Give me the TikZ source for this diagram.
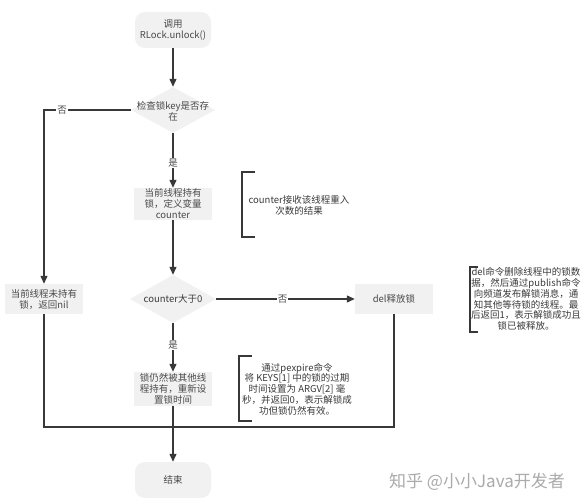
\documentclass[tikz,border=0pt]{standalone}
\usepackage{fontspec}
\setmainfont{Noto Sans CJK SC}
\usetikzlibrary{shapes.geometric,arrows.meta}
\definecolor{nodefill}{HTML}{F1F1F1}
\definecolor{linec}{HTML}{383838}
\definecolor{textc}{HTML}{4A4A4A}
\definecolor{notec}{HTML}{3A3A3A}
\definecolor{wm}{HTML}{ABABAB}
\begin{document}
\begin{tikzpicture}[x=1pt,y=-1pt,
 every node/.style={font=\fontsize{9.5}{11}\selectfont, text=textc, align=center, inner sep=0pt},
 proc/.style={rectangle, fill=nodefill, minimum width=78pt, minimum height=30pt},
 term/.style={rectangle, rounded corners=10pt, fill=nodefill, minimum width=76pt, minimum height=36pt},
 dec/.style={diamond, fill=nodefill, inner sep=0pt},
 conn/.style={draw=linec, line width=1.3pt},
 arr/.style={conn, -{Triangle[length=8pt,width=7pt]}},
 lbl/.style={fill=white, inner sep=1pt},
 brk/.style={draw=linec, line width=1.1pt},
 note/.style={text=notec, font=\fontsize{9.5}{10.8}\selectfont}]
\useasboundingbox (0,0) rectangle (582,500);
\fill[white] (0,0) rectangle (582,500);

\node[term] (start) at (173,30) {调用\\RLock.unlock()};
\node[dec, minimum width=84pt, minimum height=46pt] (d1) at (173,110) {};
\node (d1t) at (173,111) {检查锁key是否存\\在};
\node[proc, minimum height=32pt] (b2) at (173,204) {当前线程持有\\锁，定义变量\\counter};
\node[dec, minimum width=86pt, minimum height=48pt] (d2) at (173,299) {};
\node[text=notec] (d2t) at (173,299) {counter大于0};
\node[proc] (left) at (44,299) {当前线程未持有\\锁，返回nil};
\node[proc] (del) at (394,299) {del释放锁};
\node[proc, minimum height=34pt] (b3) at (173,389) {锁仍然被其他线\\程持有，重新设\\置锁时间};
\node[term] (end) at (173,480) {结束};

\coordinate (jl) at (44,427);
\coordinate (jr) at (394,427);

\draw[arr] (start) -- (d1);
\draw[arr] (d1.west) -- (left.north |- d1.west) -- (left.north);
\node[lbl] (no1) at (62,110) {否};
\draw[arr] (d1) -- node[lbl, pos=0.55] (yes1) {是} (b2);
\draw[arr] (b2) -- (d2);
\draw[arr] (d2) -- node[lbl, pos=0.48] (no2) {否} (del);
\draw[arr] (d2) -- node[lbl, pos=0.45] (yes2) {是} (b3);
\draw[conn] (left.south) -- (jl) -- (jr) -- (del.south);
\draw[arr] (b3) -- (end);

\draw[brk] (255,172) -- (242,172) -- (242,237) -- (255,237);
\node[note] (n1) at (299,205) {counter接收该线程重入\\次数的结果};

\draw[brk] (478,267) -- (470,267) -- (470,332) -- (478,332);
\node[note] (n2) at (526,299) {del命令删除线程中的锁数\\据，然后通过publish命令\\向频道发布解锁消息，通\\知其他等待锁的线程。最\\后返回1，表示解锁成功且\\锁已被释放。};

\draw[brk] (252,356) -- (239,356) -- (239,421) -- (252,421);
\node[note] (n3) at (297,389) {通过pexpire命令\\将 KEYS[1] 中的锁的过期\\时间设置为 ARGV[2] 毫\\秒，并返回0，表示解锁成\\功但锁仍然有效。};

\node[text=wm, font=\fontsize{17}{19}\selectfont] (wmk) at (477,482) {知乎 @小小Java开发者};
\end{tikzpicture}
\end{document}
